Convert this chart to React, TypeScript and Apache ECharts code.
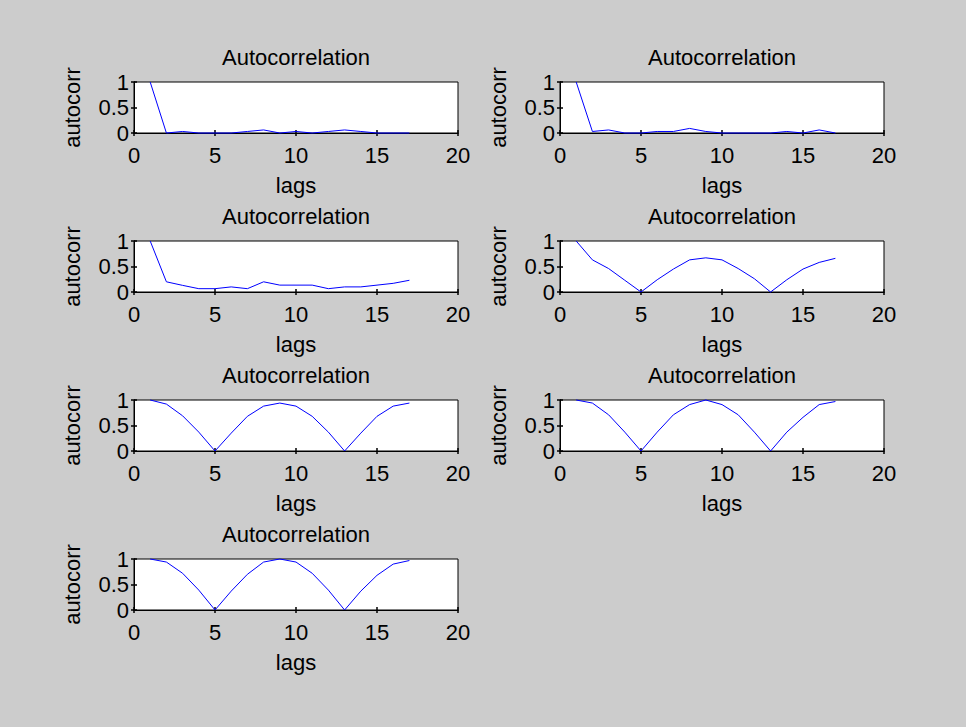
import React, { useEffect, useRef } from "react";
import * as echarts from "echarts";

const lags = [1, 2, 3, 4, 5, 6, 7, 8, 9, 10, 11, 12, 13, 14, 15, 16, 17];
const acf1 = [1, 0.0, 0.03, 0.0, 0.0, 0.0, 0.03, 0.06, 0.0, 0.03, 0.0, 0.03, 0.06, 0.03, 0.0, 0.0, 0.0];
const acf2 = [1, 0.03, 0.06, 0.0, 0.0, 0.03, 0.03, 0.09, 0.03, 0.0, 0.0, 0.0, 0.0, 0.03, 0.0, 0.06, 0.0];
const acf3 = [1, 0.2, 0.13, 0.065, 0.065, 0.1, 0.065, 0.2, 0.135, 0.135, 0.135, 0.065, 0.1, 0.1, 0.135, 0.17, 0.23];
const acf4 = [1, 0.63, 0.46, 0.23, 0, 0.24, 0.45, 0.63, 0.67, 0.63, 0.46, 0.26, 0, 0.24, 0.45, 0.58, 0.66];
const acf5 = [1, 0.92, 0.69, 0.37, 0, 0.35, 0.68, 0.88, 0.94, 0.88, 0.68, 0.37, 0, 0.35, 0.68, 0.88, 0.94];
const acf6 = [1, 0.94, 0.71, 0.37, 0, 0.37, 0.71, 0.91, 1.0, 0.91, 0.71, 0.37, 0, 0.37, 0.66, 0.91, 0.97];
const acf7 = [1, 0.94, 0.72, 0.39, 0, 0.37, 0.7, 0.94, 1.0, 0.94, 0.72, 0.39, 0, 0.37, 0.68, 0.9, 0.97];

const seriesList = [acf1, acf2, acf3, acf4, acf5, acf6, acf7];
const titleText = "Autocorrelation";
const xName = "lags";
const yName = "autocorr";
const xTicks = { min: 0, max: 20, interval: 5 };
const yTicks = { min: 0, max: 1, interval: 0.5 };

const FONT = "Liberation Sans, Arial, Helvetica, sans-serif";
const FS = 22;

export default function App() {
  const ref = useRef<HTMLDivElement>(null);
  useEffect(() => {
    document.body.style.margin = "0";
    if (!ref.current) return;
    const chart = echarts.init(ref.current, undefined, { renderer: "svg" });
    const colLeft = [134, 560];
    const rowTop = [82, 241, 400, 559];
    const W = 324;
    const H = 51;
    const grids: any[] = [];
    const xAxes: any[] = [];
    const yAxes: any[] = [];
    const series: any[] = [];
    const graphics: any[] = [];
    const tickStyle = { lineStyle: { color: "#000", width: 1.5 } };
    seriesList.forEach((vals, i) => {
      const r = Math.floor(i / 2);
      const c = i % 2;
      const left = colLeft[c];
      const top = rowTop[r];
      grids.push({
        left,
        top,
        width: W,
        height: H,
        show: true,
        backgroundColor: "#ffffff",
        borderColor: "#000",
        borderWidth: 1,
      });
      xAxes.push({
        type: "value",
        gridIndex: i,
        position: "bottom",
        ...xTicks,
        name: xName,
        nameLocation: "middle",
        nameGap: 41,
        nameTextStyle: { color: "#000", fontSize: FS, fontFamily: FONT },
        axisLine: { show: true, lineStyle: { color: "#000", width: 1 } },
        axisTick: { show: true, inside: true, length: 3, ...tickStyle },
        axisLabel: { color: "#000", fontSize: FS, fontFamily: FONT, margin: 11 },
        splitLine: { show: false },
      });
      xAxes.push({
        type: "value",
        gridIndex: i,
        position: "top",
        ...xTicks,
        axisLine: { show: true, lineStyle: { color: "#000", width: 1 } },
        axisTick: { show: true, inside: true, length: 3, ...tickStyle },
        axisLabel: { show: false },
        splitLine: { show: false },
      });
      yAxes.push({
        type: "value",
        gridIndex: i,
        position: "left",
        ...yTicks,
        name: yName,
        nameLocation: "middle",
        nameRotate: 90,
        nameGap: 51,
        nameTextStyle: { color: "#000", fontSize: FS, fontFamily: FONT },
        axisLine: { show: true, lineStyle: { color: "#000", width: 1 } },
        axisTick: { show: true, inside: true, length: 3, ...tickStyle },
        axisLabel: { color: "#000", fontSize: FS, fontFamily: FONT, margin: 5 },
        splitLine: { show: false },
      });
      yAxes.push({
        type: "value",
        gridIndex: i,
        position: "right",
        ...yTicks,
        axisLine: { show: true, lineStyle: { color: "#000", width: 1 } },
        axisTick: { show: true, inside: true, length: 3, ...tickStyle },
        axisLabel: { show: false },
        splitLine: { show: false },
      });
      series.push({
        type: "line",
        xAxisIndex: 2 * i,
        yAxisIndex: 2 * i,
        data: lags.map((x, k) => [x, vals[k]]),
        symbol: "none",
        lineStyle: { color: "#0000ff", width: 1 },
        clip: false,
      });
      graphics.push({
        type: "text",
        x: left + W / 2,
        y: top - 25,
        style: {
          text: titleText,
          fill: "#000",
          font: `${FS}px ${FONT}`,
          align: "center",
          verticalAlign: "middle",
        },
      });
    });
    chart.setOption({
      animation: false,
      backgroundColor: "#cccccc",
      grid: grids,
      xAxis: xAxes,
      yAxis: yAxes,
      series,
      graphic: graphics,
    });
    return () => chart.dispose();
  }, []);
  return <div ref={ref} style={{ width: 966, height: 727 }} />;
}
